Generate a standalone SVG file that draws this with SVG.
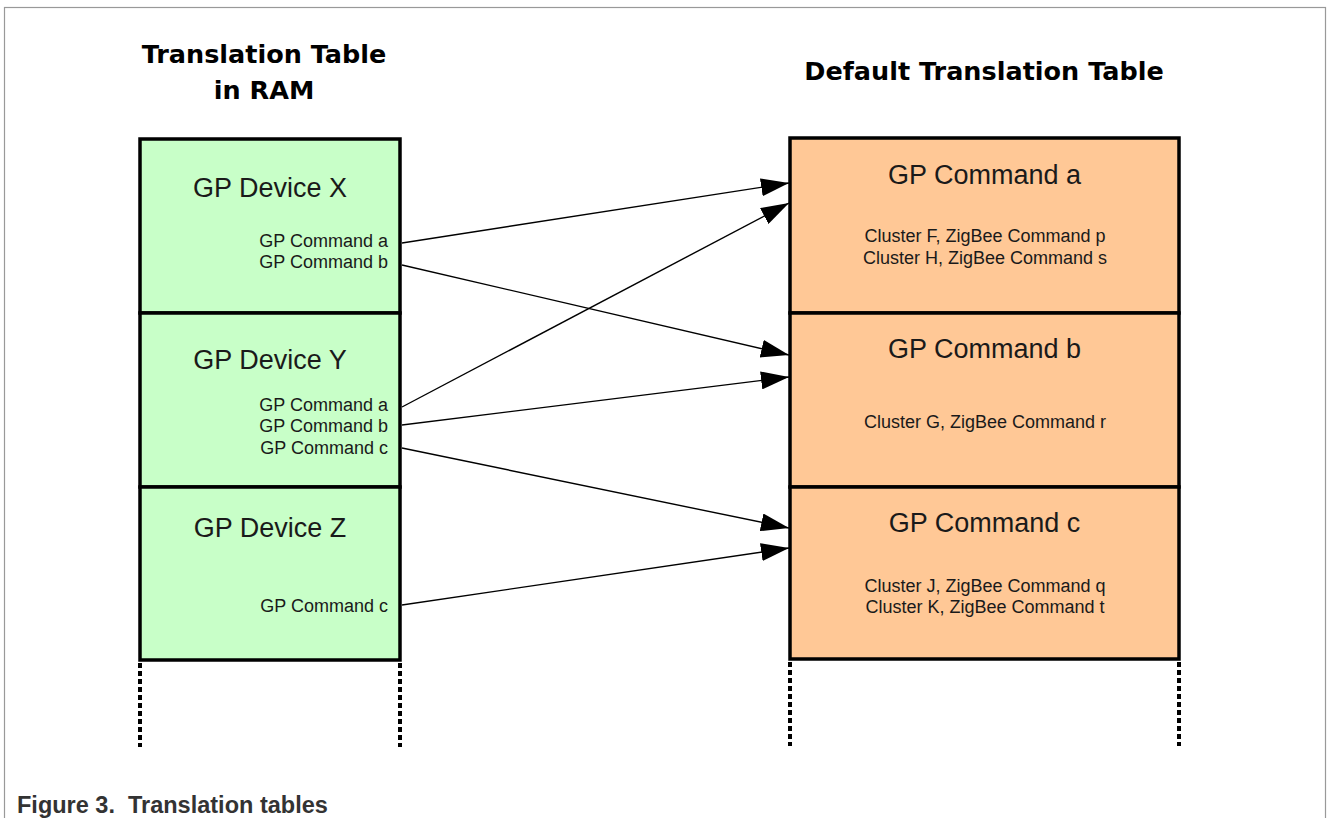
<svg xmlns="http://www.w3.org/2000/svg" width="1328" height="818" viewBox="0 0 1328 818">
<style>
.title{font-family:"DejaVu Sans",Verdana,sans-serif;font-weight:bold;font-size:25.5px;fill:#000;text-anchor:middle}
.big{font-family:"Liberation Sans",Arial,sans-serif;font-size:27px;fill:#1a1a1a;text-anchor:middle}
.small{font-family:"Liberation Sans",Arial,sans-serif;font-size:18px;fill:#1a1a1a}
.r{text-anchor:end}
.m{text-anchor:middle}
.green{fill:#C8FFC8;stroke:#000;stroke-width:3.5}
.orange{fill:#FFC896;stroke:#000;stroke-width:3.5}
.dots{stroke:#000;stroke-width:4;stroke-dasharray:5 3;fill:none}
.conn{stroke:#000;stroke-width:1.4;fill:none;marker-end:url(#ah)}
.caption{font-family:"Liberation Sans",Arial,sans-serif;font-weight:bold;font-size:23.5px;fill:#333}
</style>
<defs>
<marker id="ah" markerWidth="28" markerHeight="18" refX="28" refY="9" orient="auto" markerUnits="userSpaceOnUse">
<path d="M0,0 L28,9 L0,18 Z" fill="#000"/>
</marker>
</defs>
<rect x="0" y="0" width="1328" height="818" fill="#fff"/>
<rect x="4.5" y="7.5" width="1321" height="830" fill="none" stroke="#999" stroke-width="1.2"/>

<text class="title" x="264" y="63">Translation Table</text>
<text class="title" x="264" y="99">in RAM</text>
<text class="title" x="984" y="80">Default Translation Table</text>

<g id="device-x">
<rect class="green" x="140" y="139" width="260" height="174"/>
<text class="big" x="270" y="197">GP Device X</text>
<text class="small r" x="388" y="247">GP Command a</text>
<text class="small r" x="388" y="268">GP Command b</text>
</g>
<g id="device-y">
<rect class="green" x="140" y="313" width="260" height="174"/>
<text class="big" x="270" y="369">GP Device Y</text>
<text class="small r" x="388" y="411">GP Command a</text>
<text class="small r" x="388" y="432">GP Command b</text>
<text class="small r" x="388" y="454">GP Command c</text>
</g>
<g id="device-z">
<rect class="green" x="140" y="487" width="260" height="173"/>
<text class="big" x="270" y="537">GP Device Z</text>
<text class="small r" x="388" y="612">GP Command c</text>
</g>
<g id="left-continuation">
<line class="dots" x1="140" y1="663" x2="140" y2="747"/>
<line class="dots" x1="400" y1="663" x2="400" y2="747"/>
</g>

<g id="command-a">
<rect class="orange" x="790" y="138" width="389" height="175"/>
<text class="big" x="984.5" y="184">GP Command a</text>
<text class="small m" x="985" y="242">Cluster F, ZigBee Command p</text>
<text class="small m" x="985" y="264">Cluster H, ZigBee Command s</text>
</g>
<g id="command-b">
<rect class="orange" x="790" y="313" width="389" height="174"/>
<text class="big" x="984.5" y="358">GP Command b</text>
<text class="small m" x="985" y="428">Cluster G, ZigBee Command r</text>
</g>
<g id="command-c">
<rect class="orange" x="790" y="487" width="389" height="172"/>
<text class="big" x="984.5" y="532">GP Command c</text>
<text class="small m" x="985" y="592">Cluster J, ZigBee Command q</text>
<text class="small m" x="985" y="613">Cluster K, ZigBee Command t</text>
</g>
<g id="right-continuation">
<line class="dots" x1="790" y1="662" x2="790" y2="746"/>
<line class="dots" x1="1179" y1="662" x2="1179" y2="746"/>
</g>

<g id="connectors">
<line class="conn" x1="402" y1="243" x2="789" y2="183"/>
<line class="conn" x1="402" y1="265" x2="789" y2="355"/>
<line class="conn" x1="402" y1="407" x2="789" y2="203"/>
<line class="conn" x1="402" y1="425" x2="789" y2="377"/>
<line class="conn" x1="402" y1="448" x2="789" y2="528"/>
<line class="conn" x1="402" y1="605" x2="789" y2="548"/>
</g>

<text class="caption" x="17" y="813" xml:space="preserve">Figure 3.  Translation tables</text>
</svg>
